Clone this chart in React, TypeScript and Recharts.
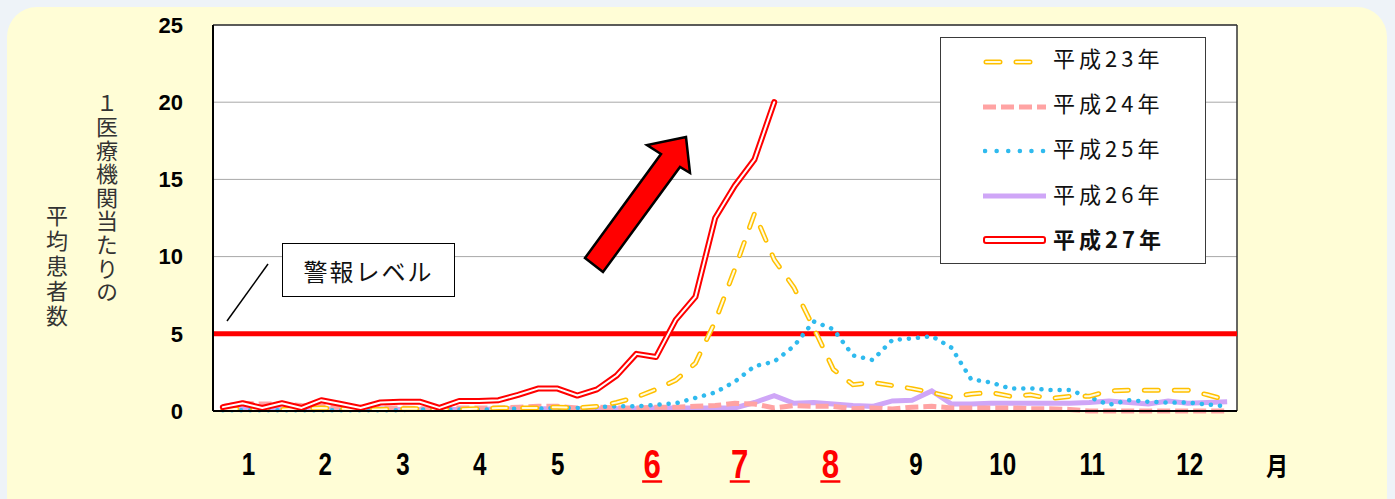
import React from "react";
import { CartesianGrid, Legend, Line, LineChart, ReferenceLine, XAxis, YAxis } from "recharts";

// weekly values (per sentinel clinic)
const h23 = [
  0.1, 0.15, 0.1, 0.1, 0.15, 0.2, 0.15, 0.1, 0.1, 0.15, 0.15, 0.1, 0.1, 0.15, 0.2, 0.2, 0.2, 0.25, 0.2,
  0.3, 0.55, 0.9, 1.4, 2.0, 3.1, 5.8, 9.2, 12.8, 9.8, 8.0, 5.4, 2.7, 1.7, 1.85, 1.65, 1.45, 1.2, 0.9,
  1.1, 1.2, 0.95, 1.05, 0.8, 0.95, 0.95, 1.3, 1.35, 1.35, 1.35, 1.35, 1.05, 0.7,
];
const h24 = [
  0.3, 0.5, 0.45, 0.45, 0.35, 0.3, 0.25, 0.2, 0.2, 0.2, 0.15, 0.15, 0.2, 0.2, 0.2, 0.25, 0.3, 0.3, 0.2,
  0.25, 0.2, 0.2, 0.25, 0.25, 0.3, 0.35, 0.5, 0.45, 0.2, 0.35, 0.3, 0.3, 0.15, 0.2, 0.13, 0.25, 0.3, 0.2,
  0.2, 0.2, 0.2, 0.15, 0.15, 0.1, 0, 0, 0, 0, 0, 0, 0, 0,
];
const h25 = [
  0.05, 0.05, 0.05, 0.05, 0.05, 0.05, 0.05, 0.05, 0.05, 0.05, 0.1, 0.1, 0.1, 0.1, 0.1, 0.15, 0.15, 0.2,
  0.2, 0.25, 0.3, 0.3, 0.4, 0.5, 0.85, 1.2, 1.9, 2.9, 3.2, 4.2, 5.8, 5.3, 3.6, 3.3, 4.6, 4.7, 4.85, 4.1,
  2.05, 1.85, 1.45, 1.47, 1.36, 1.36, 0.9, 0.4, 0.7, 0.6, 0.54, 0.55, 0.42, 0.3,
];
const h26 = [
  0.15, 0.15, 0.1, 0.1, 0.1, 0.15, 0.1, 0.15, 0.15, 0.1, 0.1, 0.1, 0.1, 0.1, 0.15, 0.15, 0.15, 0.15, 0.15,
  0.15, 0.15, 0.15, 0.2, 0.2, 0.2, 0.2, 0.2, 0.55, 1.0, 0.5, 0.55, 0.45, 0.35, 0.3, 0.65, 0.7, 1.3, 0.45,
  0.45, 0.5, 0.5, 0.5, 0.5, 0.5, 0.55, 0.65, 0.55, 0.45, 0.65, 0.5, 0.55, 0.6,
];
const h27 = [
  0.25, 0.5, 0.2, 0.5, 0.2, 0.7, 0.45, 0.2, 0.55, 0.6, 0.6, 0.2, 0.65, 0.65, 0.7, 1.05, 1.45, 1.45, 1.0,
  1.4, 2.3, 3.7, 3.5, 5.9, 7.4, 12.5, 14.6, 16.3, 20.0,
];

// month labels sit at these positions on the week scale
const monthTicks = [2.3, 6.2, 10.15, 14.05, 18, 22.8, 27.25, 31.85, 36.2, 40.6, 45.15, 50.1];
const monthLabels = ["1", "2", "3", "4", "5", "6", "7", "8", "9", "10", "11", "12"];
const redMonths = ["6", "7", "8"];
const yTicks = [0, 5, 10, 15, 20, 25];
const alertLevel = 5;

const legendNames = ["平成23年", "平成24年", "平成25年", "平成26年", "平成27年"];

const data = h23.map((_, i) => ({
  week: i + 1,
  h23: h23[i],
  h24: h24[i],
  h25: h25[i],
  h26: h26[i],
  h27: i < h27.length ? h27[i] : null,
}));

const numFont = "'Liberation Sans', Arial, sans-serif";
const jpFont = "'Noto Sans CJK JP', sans-serif";

const MonthTick = (props: any) => {
  const { x, y, payload, index } = props;
  let i = typeof index === "number" ? index : monthTicks.indexOf(payload.value);
  if (i < 0) i = 0;
  const label = monthLabels[i];
  const red = redMonths.includes(label);
  return (
    <g>
      <text
        transform={`translate(${x},${y + (red ? 65 : 62)}) scale(0.78,1)`}
        textAnchor="middle"
        fontFamily={numFont}
        fontWeight="bold"
        fontSize={red ? 40 : 31}
        fill={red ? "#FF0000" : "#000"}
      >
        {label}
      </text>
      {red && <line x1={x - 10} x2={x + 10} y1={y + 68.5} y2={y + 68.5} stroke="#FF0000" strokeWidth={2.5} />}
    </g>
  );
};

const legendSymbol = (i: number) => {
  switch (i) {
    case 0:
      return (
        <>
          <line x1={3} x2={60} y1={7} y2={7} stroke="#FFC000" strokeWidth={5} strokeDasharray="14 16" strokeLinecap="round" />
          <line x1={3} x2={60} y1={7} y2={7} stroke="#FFFBE0" strokeWidth={2} strokeDasharray="14 16" strokeLinecap="round" />
        </>
      );
    case 1:
      return <line x1={0} x2={63} y1={7} y2={7} stroke="#FFA3A3" strokeWidth={5} strokeDasharray="13 5" />;
    case 2:
      return <line x1={2} x2={62} y1={7} y2={7} stroke="#2FBAEE" strokeWidth={4.5} strokeDasharray="0.1 11.5" strokeLinecap="round" />;
    case 3:
      return <line x1={0} x2={63} y1={7} y2={7} stroke="#CFA6F7" strokeWidth={5} />;
    default:
      return <rect x={1} y={4} width={61} height={6} rx={2} fill="#fff" stroke="#FF0000" strokeWidth={2} />;
  }
};

const LegendBox = () => (
  <div
    style={{
      width: 266,
      height: 227,
      border: "1px solid #3a3a3a",
      background: "#fff",
      boxSizing: "border-box",
      position: "relative",
    }}
  >
    {legendNames.map((name, i) => (
      <div key={name}>
        <svg
          width={64}
          height={14}
          style={{ position: "absolute", left: 42, top: 17 + i * 44.6 }}
        >
          {legendSymbol(i)}
        </svg>
        <span
          style={{
            position: "absolute",
            left: 112,
            top: 3 + i * 45.2,
            lineHeight: "32px",
            fontSize: 22,
            letterSpacing: 4,
            fontFamily: jpFont,
            fontWeight: i === 4 ? 700 : 400,
            color: "#111",
            whiteSpace: "nowrap",
          }}
        >
          {name}
        </span>
      </div>
    ))}
  </div>
);

export default function App() {
  return (
    <div style={{ position: "absolute", left: 0, top: 0, width: 1395, height: 499, background: "#EEF3F8", overflow: "hidden" }}>
      <div
        style={{ position: "absolute", left: 7, top: 7, width: 1380, height: 520, borderRadius: 30, background: "#FFFDD6" }}
      />
      <div style={{ position: "absolute", left: 0, top: 0 }}>
        <LineChart width={1395} height={499} data={data} margin={{ top: 25, right: 158, bottom: 28, left: 0 }}>
          <CartesianGrid horizontal vertical={false} stroke="#A8A8A8" fill="#fff" />
          <XAxis
            dataKey="week"
            type="number"
            domain={[0.5, 52.5]}
            ticks={monthTicks}
            interval={0}
            tickLine={false}
            tickSize={0}
            height={60}
            axisLine={{ stroke: "#000", strokeWidth: 2 }}
            tick={<MonthTick />}
          />
          <YAxis
            domain={[0, 25]}
            ticks={yTicks}
            width={213}
            tickLine={false}
            tickSize={0}
            tickMargin={30}
            axisLine={{ stroke: "#000", strokeWidth: 2 }}
            tick={{ fontFamily: numFont, fontWeight: "bold", fontSize: 22, fill: "#000" }}
          />
          <ReferenceLine y={25} stroke="#333" strokeWidth={1.5} />
          <ReferenceLine x={52.5} stroke="#333" strokeWidth={1.5} />
          <ReferenceLine y={alertLevel} stroke="#FF0000" strokeWidth={5} />
          <Line dataKey="h26" stroke="#CFA6F7" strokeWidth={5} dot={false} isAnimationActive={false} type="linear" />
          <Line dataKey="h24" stroke="#FFA3A3" strokeWidth={5} strokeDasharray="13 5" dot={false} isAnimationActive={false} type="linear" />
          <Line dataKey="h25" stroke="#2FBAEE" strokeWidth={4.5} strokeDasharray="0.1 9" strokeLinecap="round" dot={false} isAnimationActive={false} type="linear" />
          <Line dataKey="h23" stroke="#FFC000" strokeWidth={5} strokeDasharray="14 16" strokeLinecap="round" dot={false} isAnimationActive={false} type="linear" />
          <Line dataKey="h23" stroke="#FFFBE0" strokeWidth={2} strokeDasharray="14 16" strokeLinecap="round" dot={false} isAnimationActive={false} type="linear" legendType="none" />
          <Line dataKey="h27" stroke="#FF0000" strokeWidth={6} strokeLinejoin="round" strokeLinecap="round" dot={false} isAnimationActive={false} type="linear" connectNulls={false} />
          <Line dataKey="h27" stroke="#FFFFFF" strokeWidth={2} strokeLinejoin="round" strokeLinecap="round" dot={false} isAnimationActive={false} type="linear" legendType="none" />
          <Legend
            layout="vertical"
            align="center"
            verticalAlign="middle"
            content={() => <LegendBox />}
            wrapperStyle={{ left: 940, top: 37, width: 266, height: 227 }}
          />
        </LineChart>
      </div>

      {/* annotations */}
      <svg width={1395} height={499} style={{ position: "absolute", left: 0, top: 0, pointerEvents: "none" }}>
        <line x1={227} y1={321} x2={268} y2={264} stroke="#000" strokeWidth={1.5} />
        <polygon
          points="686,137 647,145 661,154 585,258 603,272 680,167 690,173"
          fill="#FF0000"
          stroke="#000"
          strokeWidth={2.5}
          strokeLinejoin="miter"
        />
      </svg>
      <div
        style={{
          position: "absolute",
          left: 282,
          top: 243,
          width: 173,
          height: 54,
          boxSizing: "border-box",
          border: "1.5px solid #000",
          background: "#fff",
          display: "flex",
          alignItems: "center",
          justifyContent: "center",
          fontFamily: jpFont,
          fontSize: 24,
          letterSpacing: 2,
          color: "#111",
        }}
      >
        警報レベル
      </div>
      <div
        style={{
          position: "absolute",
          left: 95,
          top: 92,
          writingMode: "vertical-rl",
          fontFamily: jpFont,
          fontSize: 22,
          letterSpacing: 1.6,
          color: "#333",
          lineHeight: "24px",
        }}
      >
        １医療機関当たりの
      </div>
      <div
        style={{
          position: "absolute",
          left: 45,
          top: 205,
          writingMode: "vertical-rl",
          fontFamily: jpFont,
          fontSize: 22,
          letterSpacing: 3,
          color: "#333",
          lineHeight: "24px",
        }}
      >
        平均患者数
      </div>
      <div
        style={{
          position: "absolute",
          left: 1264,
          top: 446,
          fontFamily: jpFont,
          fontWeight: 700,
          fontSize: 26,
          color: "#000",
          transform: "scaleX(0.85)",
        }}
      >
        月
      </div>
    </div>
  );
}
